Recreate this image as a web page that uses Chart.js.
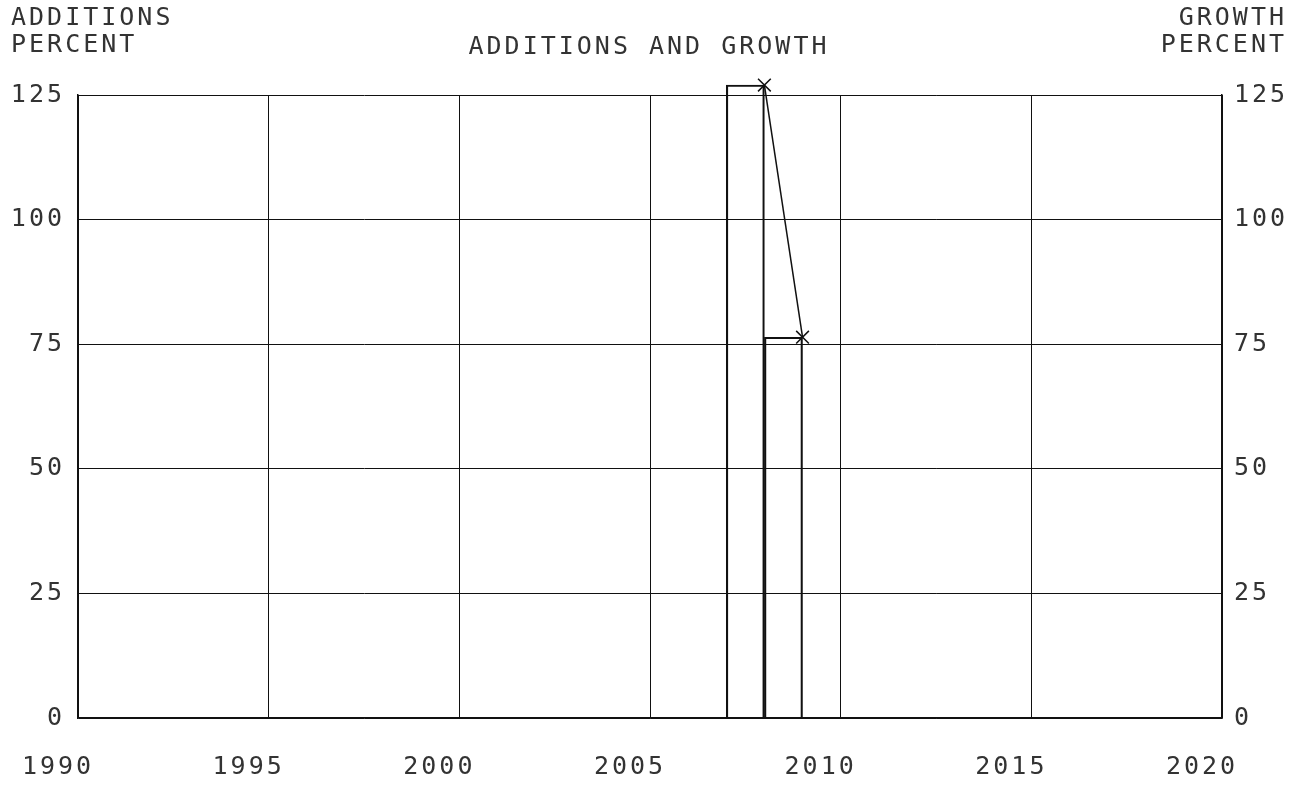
<!DOCTYPE html>
<html>
<head>
<meta charset="utf-8">
<script src="https://cdn.jsdelivr.net/npm/chart.js@4/dist/chart.umd.min.js"></script>
<style>
  html, body { margin: 0; padding: 0; background: #fff; }
  #wrap { width: 1300px; height: 786px; }
</style>
</head>
<body>
<div id="wrap"><canvas id="chart"></canvas></div>
<script>
// data
const additionYears = [2008, 2009];   // bar covers the year ending here
const additions = [127, 76.4];
const growthYears = [2008, 2009];
const growth = [127, 76.4];
const yTicks = [0, 25, 50, 75, 100, 125];
const xTicks = [1990, 1995, 2000, 2005, 2010, 2015, 2020];

const FONT = '"DejaVu Sans Mono", monospace';
const INK = '#111';
const TXT = '#333';

// plotter lettering is widely spaced
const textPlugin = {
    id: 'plotterText',
    beforeDraw(chart) {
        chart.ctx.letterSpacing = '3px';
    },
    afterDraw(chart) {
        const ctx = chart.ctx;
        ctx.save();
        ctx.letterSpacing = '3px';
        ctx.fillStyle = TXT;
        ctx.font = '25px ' + FONT;
        ctx.textBaseline = 'middle';
        ctx.textAlign = 'left';
        ctx.fillText('ADDITIONS', 11, 18);
        ctx.fillText('PERCENT', 11, 45);
        ctx.textAlign = 'right';
        ctx.fillText('GROWTH', 1287, 18);
        ctx.fillText('PERCENT', 1287, 45);
        ctx.textAlign = 'center';
        ctx.fillText('ADDITIONS AND GROWTH', 649, 47);
        ctx.restore();
    }
};

const ctx = document.getElementById('chart');
new Chart(ctx, {
    type: 'bar',
    data: {
        datasets: [{
            label: 'Additions',
            data: additionYears.map((yr, i) => ({ x: yr - 0.5, y: additions[i] })),
            backgroundColor: 'rgba(0,0,0,0)',
            borderColor: INK,
            borderWidth: 1.5,
            barPercentage: 1,
            categoryPercentage: 1,
            clip: false,
            xAxisID: 'x',
            yAxisID: 'y'
        }, {
            type: 'line',
            label: 'Growth',
            data: growthYears.map((yr, i) => ({ x: yr, y: growth[i] })),
            borderColor: INK,
            borderWidth: 1.5,
            pointStyle: 'crossRot',
            pointRadius: 9,
            pointBorderColor: INK,
            pointBorderWidth: 1.5,
            fill: false,
            clip: false,
            xAxisID: 'x',
            yAxisID: 'y2'
        }]
    },
    options: {
        responsive: true,
        maintainAspectRatio: false,
        animation: false,
        layout: { padding: { top: 95, left: 0, right: 0, bottom: 0 } },
        plugins: {
            legend: { display: false },
            tooltip: { enabled: false }
        },
        scales: {
            x: {
                type: 'linear',
                min: 1990,
                max: 2020,
                offset: false,
                afterBuildTicks: (s) => { s.ticks = xTicks.map(v => ({ value: v })); },
                afterFit: (s) => { s.height = 68; },
                grid: { color: INK, lineWidth: 1, drawTicks: false, offset: false },
                border: { color: INK, width: 1.5 },
                ticks: {
                    color: TXT,
                    font: { family: FONT, size: 25 },
                    padding: 34,
                    labelOffset: -20,
                    maxRotation: 0,
                    callback: (v) => String(v)
                }
            },
            y: {
                position: 'left',
                min: 0,
                max: 125,
                afterBuildTicks: (s) => { s.ticks = yTicks.map(v => ({ value: v })); },
                afterFit: (s) => { s.width = 78; },
                grid: { color: INK, lineWidth: 1, drawTicks: false },
                border: { color: INK, width: 1.5 },
                ticks: {
                    color: TXT,
                    font: { family: FONT, size: 25 },
                    padding: 13
                }
            },
            y2: {
                position: 'right',
                min: 0,
                max: 125,
                afterBuildTicks: (s) => { s.ticks = yTicks.map(v => ({ value: v })); },
                afterFit: (s) => { s.width = 78; },
                grid: { display: false, drawTicks: false },
                border: { color: INK, width: 1.5 },
                ticks: {
                    color: TXT,
                    font: { family: FONT, size: 25 },
                    padding: 12
                }
            }
        }
    },
    plugins: [textPlugin]
});
</script>
</body>
</html>
